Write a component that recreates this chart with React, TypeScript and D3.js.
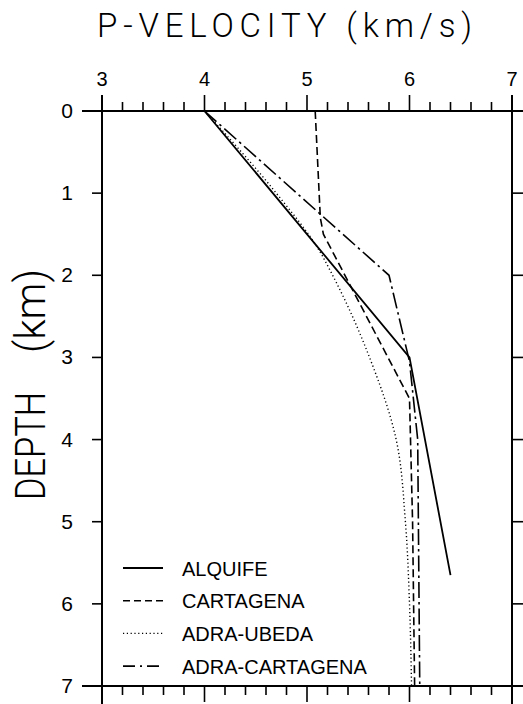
import React from "react";
import * as d3 from "d3";

const title = "P-VELOCITY (km/s)";
const yTitleWord = "DEPTH";
const yTitleUnit = "(km)";
const xTicks = [3, 4, 5, 6, 7];
const yTicks = [0, 1, 2, 3, 4, 5, 6, 7];
const seriesNames = ["ALQUIFE", "CARTAGENA", "ADRA-UBEDA", "ADRA-CARTAGENA"];

// [velocity km/s, depth km]
const alquife: [number, number][] = [
  [4.0, 0], [6.0, 3.0], [6.4, 5.65],
];
const cartagena: [number, number][] = [
  [5.08, 0], [5.13, 1.3], [5.16, 1.5], [6.0, 3.5], [6.03, 5.0], [6.05, 7.0],
];
const adraUbeda: [number, number][] = [
  [4.0, 0], [4.7, 1.0], [5.12, 1.7], [5.25, 2.0], [5.61, 3.0], [5.87, 4.0], [5.96, 5.0], [6.0, 6.0], [6.02, 7.0],
];
const adraCartagena: [number, number][] = [
  [4.0, 0], [5.8, 2.0], [6.0, 3.05], [6.08, 4.0], [6.1, 7.0],
];

const W = 523, H = 704;
const L = 102, R = 512, T = 111, B = 686;

export default function App() {
  const x = d3.scaleLinear().domain([3, 7]).range([L, R]);
  const y = d3.scaleLinear().domain([0, 7]).range([T, B]);
  const minor = d3.range(3, 7.0001, 0.2);

  const straight = d3.line<[number, number]>().x(d => x(d[0])).y(d => y(d[1]));
  const smooth = d3.line<[number, number]>().x(d => x(d[0])).y(d => y(d[1])).curve(d3.curveMonotoneY);

  const styles = [
    { dash: "none", w: 1.8 },
    { dash: "8,4", w: 1.6 },
    { dash: "1.2,2.6", w: 1.4 },
    { dash: "16,4,2.5,4", w: 1.6 },
  ];
  const paths = [
    straight(alquife),
    straight(cartagena),
    smooth(adraUbeda),
    straight(adraCartagena),
  ];
  const font = "'Liberation Sans', Arial, sans-serif";
  const bigFont = "Roboto, 'Liberation Sans', sans-serif";

  return (
    <svg width={W} height={H} style={{ position: "absolute", left: 0, top: 0, background: "#fff" }}
      fontFamily={font}>
      <rect x={0} y={0} width={W} height={H} fill="#fff" />
      <text x={(97 + 472) / 2} y={37} fontSize={33} fontFamily={bigFont} fontWeight={300}
        textAnchor="middle" textLength={375} lengthAdjust="spacing">{title}</text>
      <g fontFamily={bigFont} fontWeight={300} fontSize={43}>
        <text transform={`translate(45,446) rotate(-90)`} textAnchor="middle" textLength={108}
          lengthAdjust="spacingAndGlyphs">{yTitleWord}</text>
        <text transform={`translate(45,311) rotate(-90)`} textAnchor="middle" textLength={84}
          lengthAdjust="spacingAndGlyphs">{yTitleUnit}</text>
      </g>

      {/* frame */}
      <g stroke="#000" strokeWidth={2} fill="none">
        <line x1={L - 20} x2={W} y1={T} y2={T} />
        <line x1={L - 20} x2={W} y1={B} y2={B} />
        <line x1={L} x2={L} y1={T - 16} y2={H} />
        <line x1={R} x2={R} y1={T - 16} y2={H} />
      </g>
      {/* top and bottom minor/major ticks */}
      <g stroke="#000" strokeWidth={1.6}>
        {minor.map((v, i) => {
          const major = i % 5 === 0;
          const len = major ? 16 : 9;
          return (
            <g key={i}>
              <line x1={x(v)} x2={x(v)} y1={T} y2={T - len} />
              <line x1={x(v)} x2={x(v)} y1={B} y2={B + len} />
            </g>
          );
        })}
        {yTicks.map(d => (
          <g key={d}>
            <line x1={L} x2={L - 10} y1={y(d)} y2={y(d)} />
            <line x1={R} x2={R + 11} y1={y(d)} y2={y(d)} />
          </g>
        ))}
      </g>
      {xTicks.map(v => (
        <text key={v} x={x(v)} y={86} fontSize={20} textAnchor="middle">{v}</text>
      ))}
      {yTicks.map(d => (
        <text key={d} x={73} y={y(d) + 7} fontSize={21} textAnchor="end">{d}</text>
      ))}

      {/* data */}
      {paths.map((p, i) => (
        <path key={i} d={p || ""} fill="none" stroke="#000" strokeWidth={styles[i].w}
          strokeDasharray={styles[i].dash} />
      ))}

      {/* legend */}
      {seriesNames.map((n, i) => {
        const cy = 568 + i * 32.7;
        return (
          <g key={n}>
            <line x1={123} x2={163} y1={cy} y2={cy} stroke="#000" strokeWidth={styles[i].w}
              strokeDasharray={i === 1 ? "7,4" : i === 3 ? "12,5,2,5" : styles[i].dash} />
            <text x={182} y={cy + 7.5} fontSize={20}>{n}</text>
          </g>
        );
      })}
    </svg>
  );
}
